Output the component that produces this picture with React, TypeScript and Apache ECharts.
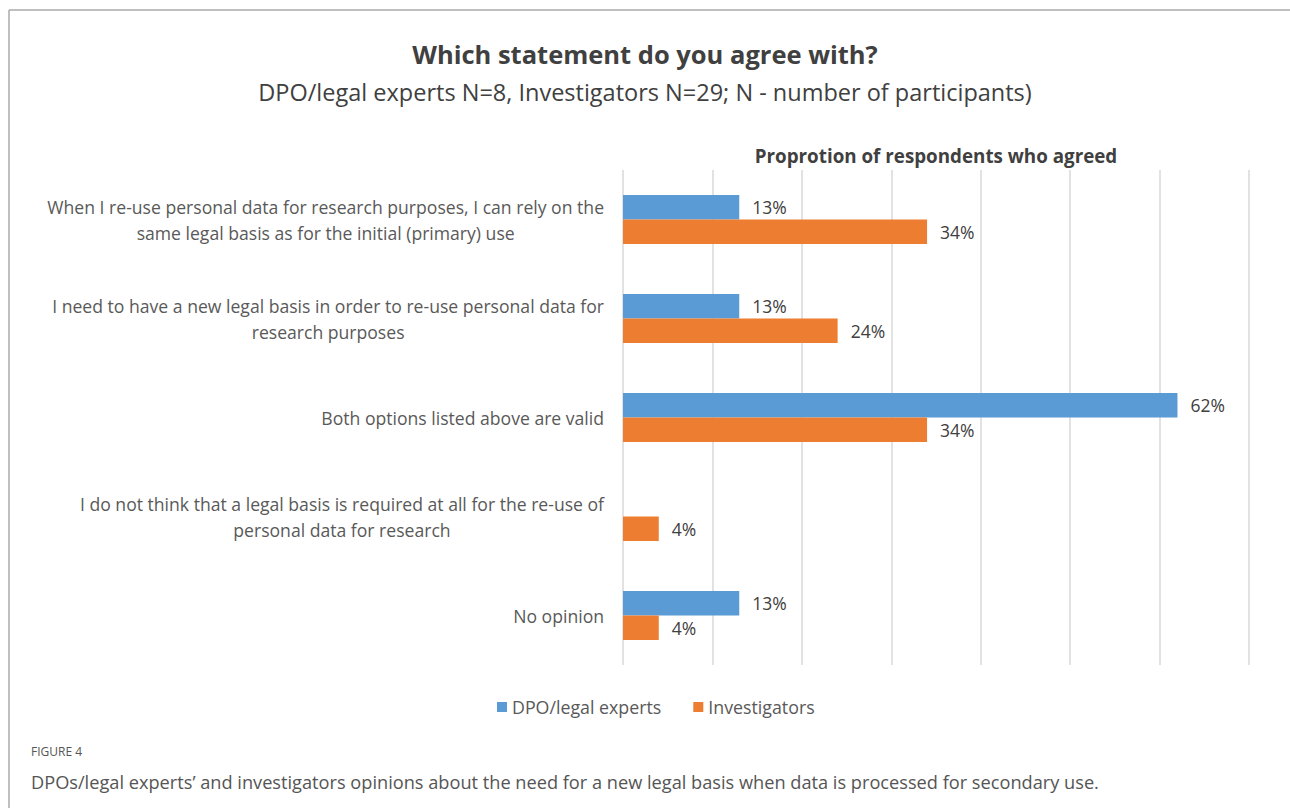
import React, { useEffect, useRef } from "react";
import * as echarts from "echarts";

const categories: string[] = [
  "When I re-use personal data for research purposes, I can rely on the\nsame legal basis as for the initial (primary) use",
  "I need to have a new legal basis in order to re-use personal data for\nresearch purposes",
  "Both options listed above are valid",
  "I do not think that a legal basis is required at all for the re-use of\npersonal data for research",
  "No opinion",
];
const dpoValues: (number | null)[] = [13, 13, 62, null, 13];
const investigatorValues: number[] = [34, 24, 34, 4, 4];
const seriesNames = ["DPO/legal experts", "Investigators"];
const axisTicks = { min: 0, max: 70, interval: 10 };

const titleText = "Which statement do you agree with?";
const subtitleText = "DPO/legal experts N=8, Investigators N=29; N - number of participants)";
const axisTitle = "Proprotion of respondents who agreed";
const figureLabel = "FIGURE 4";
const captionText =
  "DPOs/legal experts’ and investigators opinions about the need for a new legal basis when data is processed for secondary use.";

const FONT = "'Open Sans', 'Noto Sans', sans-serif";
const TEXT = "#595959";

export default function App() {
  const ref = useRef<HTMLDivElement>(null);
  useEffect(() => {
    if (!ref.current) return;
    const chart = echarts.init(ref.current, undefined, { renderer: "svg" });
    const labelStyle = {
      show: true,
      position: "right" as const,
      distance: 13,
      formatter: "{c}%",
      fontSize: 17.5,
      fontFamily: FONT,
      color: "#404040",
    };
    chart.setOption({
      animation: false,
      backgroundColor: "#fff",
      title: [
        {
          text: titleText,
          left: "center",
          top: 36,
          textStyle: { fontSize: 25.5, fontWeight: "bold", color: "#404040", fontFamily: FONT },
        },
        {
          text: subtitleText,
          left: "center",
          top: 75,
          textStyle: { fontSize: 23.5, fontWeight: "normal", color: "#404040", fontFamily: FONT },
        },
      ],
      legend: {
        data: seriesNames,
        top: 693,
        left: 492,
        icon: "rect",
        itemWidth: 10,
        itemHeight: 10,
        itemGap: 32,
        textStyle: { fontSize: 17.8, color: TEXT, fontFamily: FONT },
      },
      grid: { left: 623, right: 41, top: 170, bottom: 143, containLabel: false },
      xAxis: {
        type: "value",
        position: "top",
        min: axisTicks.min,
        max: axisTicks.max,
        interval: axisTicks.interval,
        name: axisTitle,
        nameLocation: "middle",
        nameGap: 5,
        nameTextStyle: { fontSize: 18.8, fontWeight: "bold", color: "#404040", fontFamily: FONT },
        axisLabel: { show: false },
        axisLine: { show: false },
        axisTick: { show: false },
        splitLine: { show: true, lineStyle: { color: "#d9d9d9", width: 1.5 } },
      },
      yAxis: {
        type: "category",
        inverse: true,
        data: categories,
        axisLine: { show: false },
        axisTick: { show: false },
        axisLabel: {
          margin: 19,
          formatter: (v: string) =>
            v
              .split("\n")
              .map((l) => `{c|${l}}`)
              .join("\n"),
          rich: {
            c: { align: "center", fontSize: 17.6, lineHeight: 26, color: TEXT, fontFamily: FONT },
          },
        },
      },
      series: [
        {
          name: seriesNames[0],
          type: "bar",
          data: dpoValues,
          barWidth: 24.5,
          barGap: "0%",
          itemStyle: { color: "#5B9BD5" },
          label: labelStyle,
        },
        {
          name: seriesNames[1],
          type: "bar",
          data: investigatorValues,
          barWidth: 24.5,
          barGap: "0%",
          itemStyle: { color: "#ED7D31" },
          label: labelStyle,
        },
      ],
      graphic: [
        { type: "line", shape: { x1: 9, y1: 10, x2: 1290, y2: 10 }, style: { stroke: "#aaaaaa", lineWidth: 1.5 } },
        { type: "line", shape: { x1: 9, y1: 10, x2: 9, y2: 808 }, style: { stroke: "#aaaaaa", lineWidth: 1.5 } },
        {
          type: "text",
          left: 31,
          top: 745,
          style: { text: figureLabel, fontSize: 12, fill: "#555555", fontFamily: FONT },
        },
        {
          type: "text",
          left: 31,
          top: 773,
          style: { text: captionText, fontSize: 18.2, fill: "#555555", fontFamily: FONT },
        },
      ],
    });
    return () => chart.dispose();
  }, []);
  return (
    <div
      ref={ref}
      style={{ position: "absolute", left: 0, top: 0, width: 1290, height: 808 }}
    />
  );
}
